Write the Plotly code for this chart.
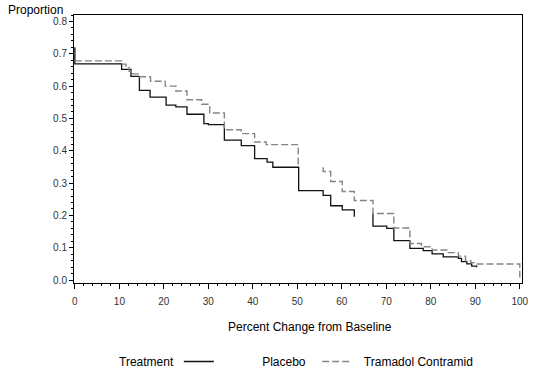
import plotly.graph_objects as go

# Placebo (solid) step curve: x = percent change, y = proportion (None = gap)
placebo_x = [0, 0, 10.5, 12.6, 14.5, 16.9, 20.5, 22.7, 25.2, 29.0, 30.0, 33.6, 37.4, 40.4,
             43.2, 44.5, 50.3, 55.8, 57.5, 60.1, 62.8, None,
             67.0, 67.0, 70.1, 71.7, 75.3, 78.3, 80.3, 82.8, 86.2, 86.9, 88.1, 89.2, 90.3]
placebo_y = [0.72, 0.669, 0.652, 0.630, 0.587, 0.566, 0.541, 0.536, 0.513, 0.484, 0.481, 0.433,
             0.416, 0.376, 0.365, 0.349, 0.277, 0.262, 0.230, 0.217, 0.196, None,
             0.205, 0.167, 0.160, 0.122, 0.098, 0.091, 0.081, 0.072, 0.067, 0.057, 0.050,
             0.043, 0.040]

# Tramadol Contramid (dashed) step curve
tramadol_x = [0, 10.5, 11.5, 12.2, 13.0, 14.5, 17.0, 20.3, 22.7, 25.2, 28.5, 30.3, 33.6, 37.4,
              40.4, 43.0, 50.2, None,
              55.8, 55.8, 57.5, 60.1, 62.8, 67.0, 71.7, 75.3, 77.9, 80.3, 83.6, 86.2, 87.8,
              89.0, 89.9, 100.0]
tramadol_y = [0.678, 0.668, 0.658, 0.646, 0.638, 0.629, 0.615, 0.600, 0.585, 0.558, 0.544,
              0.517, 0.465, 0.453, 0.427, 0.419, 0.351, None,
              0.349, 0.336, 0.305, 0.274, 0.246, 0.206, 0.161, 0.113, 0.103, 0.093, 0.085,
              0.074, 0.060, 0.054, 0.050, 0.008]

x_ticks = [0, 10, 20, 30, 40, 50, 60, 70, 80, 90, 100]
y_ticks = [0.0, 0.1, 0.2, 0.3, 0.4, 0.5, 0.6, 0.7, 0.8]
y_tick_labels = ["0.0", "0.1", "0.2", "0.3", "0.4", "0.5", "0.6", "0.7", "0.8"]

FONT = "Liberation Sans, Arial, sans-serif"
NB = "\u00a0"

fig = go.Figure()
fig.add_trace(go.Scatter(
    x=placebo_x, y=placebo_y, mode="lines", line_shape="hv", connectgaps=False,
    name=NB * 13 + "Placebo" + NB * 2,
    line=dict(color="#111111", width=1.3),
))
fig.add_trace(go.Scatter(
    x=tramadol_x, y=tramadol_y, mode="lines", line_shape="hv", connectgaps=False,
    name=NB * 2 + "Tramadol Contramid",
    line=dict(color="#858585", width=1.4, dash="7px,3px"),
))

fig.update_layout(
    width=548, height=377,
    margin=dict(l=74, r=26, t=15, b=94, autoexpand=False),
    paper_bgcolor="white", plot_bgcolor="white",
    font=dict(family=FONT, size=12, color="#000000"),
    showlegend=True,
    legend=dict(
        orientation="h", x=0.234, xanchor="left", y=-0.293, yanchor="middle",
        font=dict(size=12), bgcolor="rgba(0,0,0,0)",
    ),
    xaxis=dict(
        range=[-0.2, 100.5], tickvals=x_ticks, ticktext=[str(v) for v in x_ticks],
        showgrid=False, zeroline=False, showline=True, linecolor="#000000", linewidth=1,
        mirror=True, ticks="outside", ticklen=5, tickcolor="#000000", tickwidth=1,
        ticklabelstandoff=4,
        tickfont=dict(family=FONT, size=10, color="#333333"),
        minor=dict(dtick=2, ticks="outside", ticklen=2, tickcolor="#000000", tickwidth=1),
    ),
    yaxis=dict(
        range=[-0.009, 0.82], tickvals=y_ticks, ticktext=y_tick_labels,
        showgrid=False, zeroline=False, showline=True, linecolor="#000000", linewidth=1,
        mirror=True, ticks="outside", ticklen=4, tickcolor="#000000", tickwidth=1,
        tickfont=dict(family=FONT, size=10, color="#333333"),
        minor=dict(dtick=0.02, tick0=0, ticks="outside", ticklen=2, tickcolor="#000000", tickwidth=1),
    ),
    annotations=[
        dict(text="Proportion", xref="paper", yref="paper", x=-0.152, y=1.019,
             xanchor="left", yanchor="middle", showarrow=False,
             font=dict(family=FONT, size=12, color="#000000")),
        dict(text="Percent Change from Baseline", xref="paper", yref="paper", x=0.527, y=-0.165,
             xanchor="center", yanchor="middle", showarrow=False,
             font=dict(family=FONT, size=12, color="#000000")),
        dict(text="Treatment", xref="paper", yref="paper", x=0.097, y=-0.293,
             xanchor="left", yanchor="middle", showarrow=False,
             font=dict(family=FONT, size=12, color="#000000")),
    ],
)

fig.write_html("out.html", config={"displayModeBar": False},
               post_script="document.body.style.margin='0';")
